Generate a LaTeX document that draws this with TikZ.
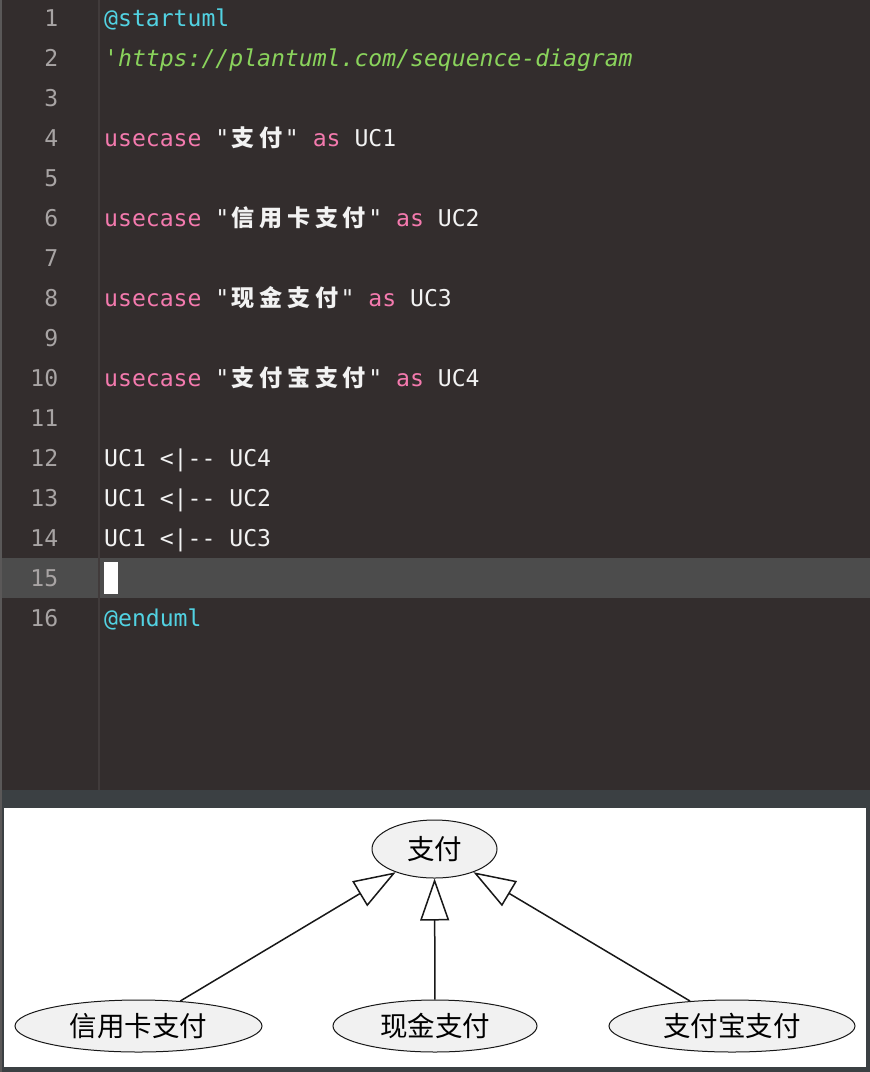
\documentclass[tikz,border=0pt]{standalone}
\usepackage{fontspec}
\setmonofont{DejaVu Sans Mono}[WordSpace={1,0,0}]
\newfontfamily\cjk{Noto Sans CJK SC}
\usetikzlibrary{arrows.meta,shapes.geometric}
\definecolor{edbg}{HTML}{332D2D}
\definecolor{gutline}{HTML}{413B3B}
\definecolor{hlband}{HTML}{4C4C4C}
\definecolor{leftstrip}{HTML}{5A5858}
\definecolor{panelbg}{HTML}{3B4043}
\definecolor{kwpink}{HTML}{F47AAE}
\definecolor{atcyan}{HTML}{52D2E2}
\definecolor{cmgreen}{HTML}{8AD35C}
\definecolor{txtwhite}{HTML}{F2F2F2}
\definecolor{lnum}{HTML}{A8A4A4}
\definecolor{ucfill}{HTML}{F1F1F1}
\definecolor{ucline}{HTML}{181818}
\newcommand\cc[1]{\makebox[27.8pt][c]{\cjk\bfseries #1}}
\tikzset{
  codeline/.style={anchor=base west, inner sep=0pt, text=txtwhite,
    font=\ttfamily\fontsize{23.1}{28}\selectfont},
  linenum/.style={anchor=base east, inner sep=0pt, text=lnum,
    font=\ttfamily\fontsize{23.1}{28}\selectfont},
  usecasebox/.style={ellipse, draw=ucline, line width=1pt, fill=ucfill,
    inner sep=0pt, font=\cjk\fontsize{27.5}{30}\selectfont, text=black},
  genarrow/.style={draw=ucline, line width=1.5pt,
    -{Triangle[open, length=42pt, width=29pt, line width=1.5pt]}}
}
\begin{document}
\begin{tikzpicture}[x=1pt,y=-1pt]
\useasboundingbox (0,0) rectangle (870,1072);
% backgrounds
\fill[panelbg] (0,0) rectangle (870,1072);
\fill[edbg] (0,0) rectangle (870,790);
\fill[hlband] (0,558) rectangle (870,598);
\fill[gutline] (98,0) rectangle (100,790);
\fill[leftstrip] (0,0) rectangle (2,1072);
\fill[white] (4,808) rectangle (866,1067);
% cursor
\fill[white] (104,562) rectangle (118,594);
% line numbers
\foreach \n in {1,...,16}{
  \node[linenum] (ln\n) at (58.5, {26+40*(\n-1)}) {\n};
}
% code lines
\node[codeline] (l1) at (104,26) {\textcolor{atcyan}{@startuml}};
\node[codeline] (l2) at (104,66) {\textcolor{cmgreen}{\itshape 'https://plantuml.com/sequence-diagram}};
\node[codeline] (l4) at (104,146) {\textcolor{kwpink}{usecase} "\cc{支}\cc{付}" \textcolor{kwpink}{as} UC1};
\node[codeline] (l6) at (104,226) {\textcolor{kwpink}{usecase} "\cc{信}\cc{用}\cc{卡}\cc{支}\cc{付}" \textcolor{kwpink}{as} UC2};
\node[codeline] (l8) at (104,306) {\textcolor{kwpink}{usecase} "\cc{现}\cc{金}\cc{支}\cc{付}" \textcolor{kwpink}{as} UC3};
\node[codeline] (l10) at (104,386) {\textcolor{kwpink}{usecase} "\cc{支}\cc{付}\cc{宝}\cc{支}\cc{付}" \textcolor{kwpink}{as} UC4};
\node[codeline] (l12) at (104,466) {UC1 <|-- UC4};
\node[codeline] (l13) at (104,506) {UC1 <|-- UC2};
\node[codeline] (l14) at (104,546) {UC1 <|-- UC3};
\node[codeline] (l16) at (104,626) {\textcolor{atcyan}{@enduml}};
% diagram
\node[usecasebox, minimum width=125pt, minimum height=58pt] (uc1) at (434.5,849) {支付};
\node[usecasebox, minimum width=247pt, minimum height=52pt] (uc2) at (138.5,1026) {信用卡支付};
\node[usecasebox, minimum width=204pt, minimum height=52pt] (uc3) at (435,1026) {现金支付};
\node[usecasebox, minimum width=246pt, minimum height=52pt] (uc4) at (732,1026) {支付宝支付};
\draw[genarrow] (uc2) -- (uc1);
\draw[genarrow] (uc3) -- (uc1);
\draw[genarrow] (uc4) -- (uc1);
\end{tikzpicture}
\end{document}
